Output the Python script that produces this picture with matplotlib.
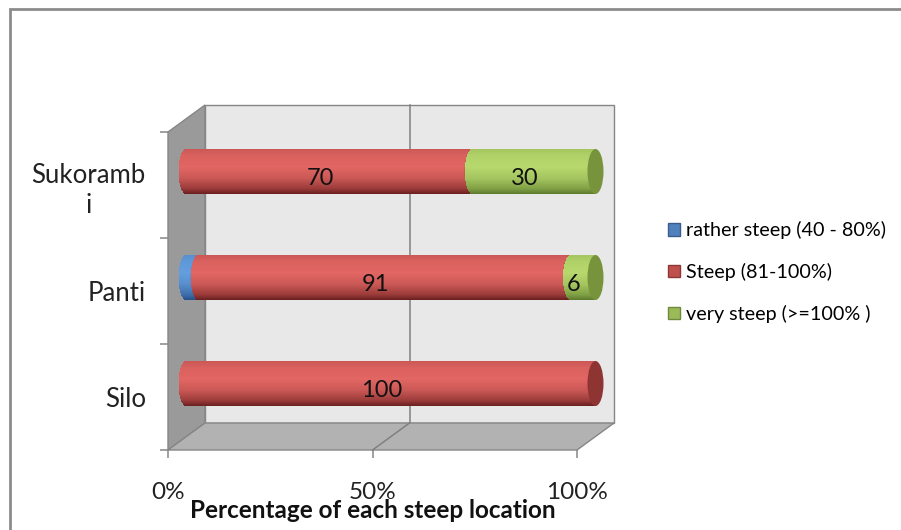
import numpy as np
import matplotlib
matplotlib.use("Agg")
import matplotlib.pyplot as plt
from matplotlib.patches import Polygon, Ellipse, Rectangle, Patch
from matplotlib.collections import PolyCollection
import matplotlib.transforms as mtransforms

plt.rcParams['font.family'] = ['Lato', 'DejaVu Sans']

# ---- data ----
locations = ["Silo", "Panti", "Sukoramb\ni"]
series_names = ["rather steep (40 - 80%)", "Steep (81-100%)", "very steep (>=100% )"]
rather_steep = [0, 3, 0]
steep = [100, 91, 70]
very_steep = [0, 6, 30]
show_value = [False, True, True]
x_ticks = [0, 50, 100]
x_tick_labels = ["0%", "50%", "100%"]
x_title = "Percentage of each steep location"

# ---- styling ----
legend_face = ["#4F81BD", "#C0504D", "#9BBB59"]
legend_edge = ["#385D8A", "#8C3836", "#71893F"]
body_light = [np.array([100, 158, 222]), np.array([226, 102, 99]), np.array([182, 216, 108])]
body_dark = [np.array([38, 78, 138]), np.array([105, 30, 30]), np.array([92, 122, 44])]
cap_color = ["#3A66A6", "#8E3533", "#77943D"]
shade_t = [0.0, 0.12, 0.35, 0.6, 0.85, 1.0]
shade_s = [0.0, 0.40, 0.80, 1.0, 0.93, 0.80]
edge_grey = "#868686"

W, H = 901, 530
fig = plt.figure(figsize=(W / 100, H / 100), dpi=100)

# axes = front plane of the 3-D box (pixel frame of the plot area)
px_l, px_r, px_b, px_t = 168, 577, 450, 132
ax = fig.add_axes([px_l / W, 1 - px_b / H, (px_r - px_l) / W, (px_b - px_t) / H])
ax.set_autoscale_on(False)
n = len(locations)
ax.set_xlim(0, 100)
ax.set_ylim(-0.5, n - 0.5)
ax.patch.set_visible(False)
for sp in ax.spines.values():
    sp.set_visible(False)

# depth of the box in data units
dx = 37 / ((px_r - px_l) / 100)
dy = 27 / ((px_b - px_t) / n)
y0, y1 = -0.5, n - 0.5

# walls
back = Polygon([(dx, y0 + dy), (100 + dx, y0 + dy), (100 + dx, y1 + dy), (dx, y1 + dy)],
               closed=True, facecolor="#E8E8E8", edgecolor=edge_grey, lw=1.0, clip_on=False, zorder=1)
side = Polygon([(0, y0), (dx, y0 + dy), (dx, y1 + dy), (0, y1)],
               closed=True, facecolor="#9A9A9A", edgecolor=edge_grey, lw=1.0, clip_on=False, zorder=2)
floor = Polygon([(0, y0), (100, y0), (100 + dx, y0 + dy), (dx, y0 + dy)],
                closed=True, facecolor="#B2B2B2", edgecolor=edge_grey, lw=1.0, clip_on=False, zorder=2)
for p in (back, side, floor):
    ax.add_patch(p)

# gridlines on back wall and floor
for xt in x_ticks[1:-1]:
    ax.plot([xt + dx, xt + dx], [y0 + dy, y1 + dy], color="#808080", lw=1.1, clip_on=False, zorder=1.5)
    ax.plot([xt, xt + dx], [y0, y0 + dy], color="#808080", lw=1.1, clip_on=False, zorder=2.5)


def cylinder(x0, x1, yc, h, ew, light, dark, cap, z):
    ts = np.linspace(0, 1, 46)
    ys = yc - h / 2 + ts * h
    half = ew / 2 * np.sqrt(np.clip(1 - ((ys - yc) / (h / 2)) ** 2, 0, 1))
    xl = x0 - half
    polys, cols = [], []
    for k in range(len(ts) - 1):
        polys.append([(xl[k], ys[k]), (x1, ys[k]), (x1, ys[k + 1]), (xl[k + 1], ys[k + 1])])
        s = np.interp(0.5 * (ts[k] + ts[k + 1]), shade_t, shade_s)
        cols.append((dark + s * (light - dark)) / 255)
    pc = PolyCollection(polys, facecolors=cols, edgecolors="none", linewidths=0,
                        antialiaseds=False, clip_on=False, zorder=z)
    ax.add_collection(pc, autolim=False)
    ax.add_patch(Ellipse((x1, yc), ew, h, facecolor=cap, edgecolor="none",
                         clip_on=False, zorder=z + 0.5))


bar_h = 45 / ((px_b - px_t) / n)
cap_w = 16 / ((px_r - px_l) / 100)
series = [rather_steep, steep, very_steep]

for i in range(n):
    left = 0
    for j, vals in enumerate(series):
        v = vals[i]
        if v <= 0:
            continue
        cylinder(left + dx / 2, left + v + dx / 2, i + dy / 2, bar_h, cap_w,
                 body_light[j], body_dark[j], cap_color[j], 10 + 2 * (3 * i + j))
        if show_value[j]:
            ax.text(left + v / 2 + dx / 4, i + dy / 4, f"{v}", ha="center", va="center",
                    fontsize=17, color="#111111", zorder=40)
        left += v

# axes ticks
ax.set_xticks(x_ticks)
ax.set_xticklabels(x_tick_labels, fontsize=17.5, color="#222222")
ax.tick_params(axis="x", direction="out", length=6, width=1.1, color=edge_grey, pad=17)
ax.set_yticks(range(n))
ax.set_yticklabels(locations, fontsize=18.5, color="#222222", linespacing=1.25)
for lab in ax.get_yticklabels():
    lab.set_multialignment("center")
ax.set_yticks(np.arange(-0.5, n, 1.0), minor=True)
ax.tick_params(axis="y", which="major", length=0, pad=16)
ax.tick_params(axis="y", which="minor", direction="out", length=6, width=1.1, color=edge_grey)

# axis title
trans = mtransforms.blended_transform_factory(ax.transAxes, fig.transFigure)
ax.text(0.5, 1 - 511 / H, x_title, transform=trans, ha="center", va="center",
        fontsize=17.5, fontweight="bold", color="#111111", zorder=50)

# legend
handles = [Patch(facecolor=legend_face[j], edgecolor=legend_edge[j], lw=1.0) for j in range(3)]
fig.legend(handles, series_names, loc="center left", bbox_to_anchor=(668 / W, 1 - 272 / H),
           frameon=False, fontsize=14.2, handlelength=0.6, handleheight=0.6,
           handletextpad=0.3, labelspacing=1.2, borderpad=0, borderaxespad=0)

# chart frame
fig.add_artist(Rectangle((10 / W, -0.2), 1.2, 1.2 - 9 / H, transform=fig.transFigure,
                         fill=False, edgecolor="#8C8C8C", lw=2.0))

fig.savefig("out.png", dpi=100)
